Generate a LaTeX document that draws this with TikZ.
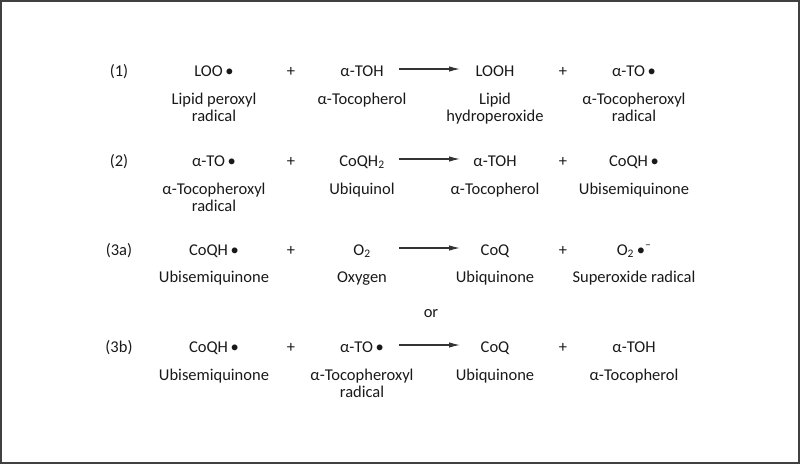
\documentclass[tikz,border=0pt]{standalone}
\usepackage{fontspec}
\setmainfont{Carlito}
\usetikzlibrary{arrows.meta}
\begin{document}
\begin{tikzpicture}[x=1pt,y=-1pt,
  txt/.style={inner sep=0pt, anchor=base, font=\fontsize{16.5}{17.5}\selectfont, text=black!90},
  nm/.style={txt, align=center},
  rxn/.style={draw=black!80, line width=1.1pt, -{Latex[length=11pt,width=5.5pt]}},
  frame/.style={draw=black!75, line width=1.6pt}]
\useasboundingbox (0,0) rectangle (800,464);
\draw[frame] (1,1) rectangle (799,463);
% Row 1
\node[txt] (l1) at (119,76) {(1)};
\node[txt] (f1a) at (214,76) {LOO\,•};
\node[txt] (p1a) at (291,76) {+};
\node[txt] (f1b) at (362,76) {α-TOH};
\node[txt] (f1c) at (495,76) {LOOH};
\node[txt] (p1b) at (563,76) {+};
\node[txt] (f1d) at (634,76) {α-TO\,•};
\coordinate (a1s) at (399,69); \coordinate (a1e) at (460,69);
\draw[rxn] (a1s) -- (a1e);
\node[nm] (n1a) at (214,121.5) {Lipid peroxyl\\radical};
\node[nm] (n1b) at (362,104) {α-Tocopherol};
\node[nm] (n1c) at (495,121.5) {Lipid\\hydroperoxide};
\node[nm] (n1d) at (634,121.5) {α-Tocopheroxyl\\radical};
% Row 2
\node[txt] (l2) at (119,166) {(2)};
\node[txt] (f2a) at (214,166) {α-TO\,•};
\node[txt] (p2a) at (291,166) {+};
\node[txt] (f2b) at (362,166) {CoQH\textsubscript{2}};
\node[txt] (f2c) at (495,166) {α-TOH};
\node[txt] (p2b) at (563,166) {+};
\node[txt] (f2d) at (634,166) {CoQH\,•};
\coordinate (a2s) at (399,159); \coordinate (a2e) at (460,159);
\draw[rxn] (a2s) -- (a2e);
\node[nm] (n2a) at (214,211.5) {α-Tocopheroxyl\\radical};
\node[nm] (n2b) at (362,194) {Ubiquinol};
\node[nm] (n2c) at (495,194) {α-Tocopherol};
\node[nm] (n2d) at (634,194) {Ubisemiquinone};
% Row 3a
\node[txt] (l3a) at (119,255) {(3a)};
\node[txt] (f3a) at (214,255) {CoQH\,•};
\node[txt] (p3a) at (291,255) {+};
\node[txt] (f3b) at (362,255) {O\textsubscript{2}};
\node[txt] (f3c) at (495,255) {CoQ};
\node[txt] (p3b) at (563,255) {+};
\node[txt] (f3d) at (634,255) {O\textsubscript{2}\,•\textsuperscript{–}};
\coordinate (a3s) at (399,248); \coordinate (a3e) at (460,248);
\draw[rxn] (a3s) -- (a3e);
\node[nm] (n3a) at (214,282) {Ubisemiquinone};
\node[nm] (n3b) at (362,282) {Oxygen};
\node[nm] (n3c) at (495,282) {Ubiquinone};
\node[nm] (n3d) at (634,282) {Superoxide radical};
\node[txt] (or) at (431,317) {or};
% Row 3b
\node[txt] (l4) at (119,352) {(3b)};
\node[txt] (f4a) at (214,352) {CoQH\,•};
\node[txt] (p4a) at (291,352) {+};
\node[txt] (f4b) at (362,352) {α-TO\,•};
\node[txt] (f4c) at (495,352) {CoQ};
\node[txt] (p4b) at (563,352) {+};
\node[txt] (f4d) at (634,352) {α-TOH};
\coordinate (a4s) at (399,345); \coordinate (a4e) at (460,345);
\draw[rxn] (a4s) -- (a4e);
\node[nm] (n4a) at (214,380) {Ubisemiquinone};
\node[nm] (n4b) at (362,397.5) {α-Tocopheroxyl\\radical};
\node[nm] (n4c) at (495,380) {Ubiquinone};
\node[nm] (n4d) at (634,380) {α-Tocopherol};
\end{tikzpicture}
\end{document}
